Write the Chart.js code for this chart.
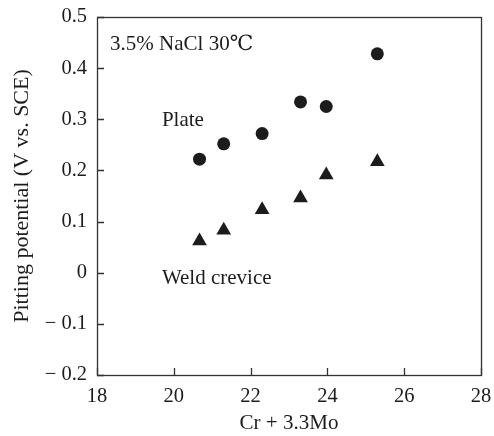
<!DOCTYPE html>
<html>
<head>
<meta charset="utf-8">
<script src="https://cdn.jsdelivr.net/npm/chart.js@4"></script>
<style>
  html, body { margin: 0; padding: 0; background: #fff; }
  canvas { display: block; }
</style>
</head>
<body>
<canvas id="c" width="494" height="436"></canvas>
<script>
// ---- data ----
const crMo        = [20.67, 21.30, 22.30, 23.30, 23.97, 25.30];   // Cr + 3.3Mo
const plateValues = [0.222, 0.252, 0.272, 0.334, 0.325, 0.428];   // Plate (V vs. SCE)
const weldValues  = [0.062, 0.083, 0.123, 0.146, 0.191, 0.217];   // Weld crevice (V vs. SCE)
const xTicks = [18, 20, 22, 24, 26, 28];
const yTicks = [-0.2, -0.1, 0, 0.1, 0.2, 0.3, 0.4, 0.5];
const seriesNames = ['Plate', 'Weld crevice'];
const conditionText = '3.5% NaCl 30\u2103';
const xTitle = 'Cr + 3.3Mo';
const yTitle = 'Pitting potential (V vs. SCE)';

// text annotations (data coordinates)
const notes = [
  { text: conditionText, x: 18.34, y: 0.447 },
  { text: seriesNames[0], x: 19.69, y: 0.297 },
  { text: seriesNames[1], x: 19.69, y: -0.012 }
];

const FONT = '"Liberation Serif", "DejaVu Serif", "Times New Roman", serif';
const INK = '#1c1c1c';

const toPoints = (xs, ys) => xs.map((x, i) => ({ x: x, y: ys[i] }));

const frame = {
  id: 'frame',
  afterDraw(chart) {
    const ctx = chart.ctx;
    const a = chart.chartArea;
    const xs = chart.scales.x, ys = chart.scales.y;
    ctx.save();
    ctx.strokeStyle = '#333';
    ctx.lineWidth = 1.3;
    ctx.strokeRect(Math.round(a.left) + 0.5, Math.round(a.top) + 0.5,
                   Math.round(a.right - a.left), Math.round(a.bottom - a.top));
    ctx.beginPath();
    const L = 7;
    xTicks.forEach(v => {
      const px = Math.round(xs.getPixelForValue(v)) + 0.5;
      ctx.moveTo(px, a.bottom); ctx.lineTo(px, a.bottom - L);
    });
    yTicks.forEach(v => {
      const py = Math.round(ys.getPixelForValue(v)) + 0.5;
      ctx.moveTo(a.left, py); ctx.lineTo(a.left + L, py);
    });
    ctx.stroke();
    ctx.fillStyle = INK;
    ctx.font = '21px ' + FONT;
    ctx.textAlign = 'left';
    ctx.textBaseline = 'middle';
    notes.forEach(n => {
      ctx.fillText(n.text, xs.getPixelForValue(n.x), ys.getPixelForValue(n.y));
    });
    ctx.restore();
  }
};

const fmtY = v => {
  const r = Math.round(v * 10) / 10;
  if (r === 0) return '0';
  if (r < 0) return '\u2212 ' + Math.abs(r).toFixed(1);
  return r.toFixed(1);
};

new Chart(document.getElementById('c'), {
  type: 'scatter',
  data: {
    datasets: [
      {
        label: seriesNames[0],
        data: toPoints(crMo, plateValues),
        pointStyle: 'circle',
        pointRadius: 6.5,
        backgroundColor: INK,
        borderColor: INK,
        borderWidth: 0
      },
      {
        label: seriesNames[1],
        data: toPoints(crMo, weldValues),
        pointStyle: 'triangle',
        pointRadius: 8.5,
        backgroundColor: INK,
        borderColor: INK,
        borderWidth: 0
      }
    ]
  },
  options: {
    responsive: false,
    devicePixelRatio: 1,
    animation: false,
    layout: { padding: { top: 17, right: 13, left: 0, bottom: 0 } },
    plugins: {
      legend: { display: false },
      tooltip: { enabled: false }
    },
    scales: {
      x: {
        type: 'linear',
        min: 18, max: 28,
        afterBuildTicks: s => { s.ticks = xTicks.map(v => ({ value: v })); },
        afterFit: s => { s.height = 61; s.paddingLeft = 0; s.paddingRight = 0; },
        grid: { display: false, drawTicks: false },
        border: { display: false },
        ticks: {
          padding: 9,
          color: INK,
          font: { family: FONT, size: 20.5 },
          maxRotation: 0,
          callback: v => String(v)
        },
        title: {
          display: true,
          text: xTitle,
          color: INK,
          font: { family: FONT, size: 21 },
          padding: { top: 0, bottom: 0 }
        }
      },
      y: {
        type: 'linear',
        min: -0.2, max: 0.5,
        afterBuildTicks: s => { s.ticks = yTicks.map(v => ({ value: v })); },
        afterFit: s => { s.width = 97; s.paddingTop = 0; s.paddingBottom = 0; },
        grid: { display: false, drawTicks: false },
        border: { display: false },
        ticks: {
          padding: 10,
          color: INK,
          font: { family: FONT, size: 20.5 },
          callback: v => fmtY(v)
        },
        title: {
          display: true,
          text: yTitle,
          color: INK,
          font: { family: FONT, size: 22 },
          padding: { top: 9, bottom: 0 }
        }
      }
    }
  },
  plugins: [frame]
});
</script>
</body>
</html>
